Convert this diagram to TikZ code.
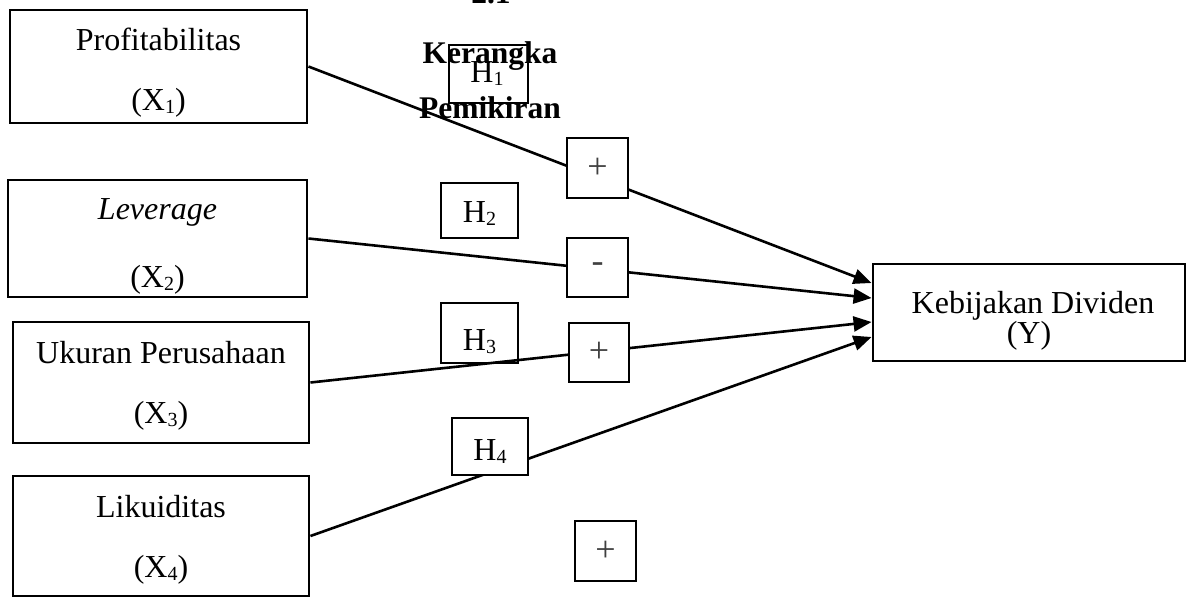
\documentclass[tikz,border=0pt]{standalone}
\usepackage{fontspec}
\setmainfont{Liberation Serif}
\usetikzlibrary{arrows.meta,calc}
\newcommand\lowidx[1]{\raisebox{-0.12em}{\fontsize{20}{20}\selectfont #1}}
\tikzset{
  box/.style={draw=black, line width=2.9pt, rectangle, inner sep=0pt},
  wbox/.style={box, fill=white},
  txt/.style={anchor=base, inner sep=0pt, font=\fontsize{32}{38}\selectfont},
  ttl/.style={anchor=base, inner sep=0pt, font=\fontsize{31.5}{38}\selectfont\bfseries},
  sgn/.style={inner sep=0pt, text=black!75, font=\fontsize{36}{38}\selectfont},
  conn/.style={line width=2.6pt, -{Triangle[length=18pt,width=15pt]}}
}
\begin{document}
\begin{tikzpicture}[x=1pt,y=-1pt]
\clip (0,0) rectangle (1187,597);
\fill[white] (0,0) rectangle (1187,597);

% title
\node[ttl] (t0) at (491,3) {2.1};
\node[ttl] (t1) at (490,63) {Kerangka};
\node[ttl] (t2) at (490,118) {Pemikiran};

% variable boxes
\node[wbox, minimum width=297pt, minimum height=113pt] (x1) at (158.5,66.5) {};
\node[wbox, minimum width=299pt, minimum height=117pt] (x2) at (157.5,238.5) {};
\node[wbox, minimum width=296pt, minimum height=121pt] (x3) at (161,382.5) {};
\node[wbox, minimum width=296pt, minimum height=120pt] (x4) at (161,536) {};
\node[wbox, minimum width=312pt, minimum height=97pt] (y) at (1029,312.5) {};

% connectors
\draw[conn] (x1.east) -- ($(y.west)+(0,-29.5)$);
\draw[conn] (x2.east) -- ($(y.west)+(0,-14.5)$);
\draw[conn] (x3.east) -- ($(y.west)+(0,9.5)$);
\draw[conn] (x4.east) -- ($(y.west)+(0,24.5)$);

% hypothesis boxes
\node[box, minimum width=79pt, minimum height=58pt] (h1) at (488.5,74) {};
\node[wbox, minimum width=77pt, minimum height=55pt] (h2) at (479.5,210.5) {};
\node[box, minimum width=77pt, minimum height=60pt] (h3) at (479.5,333) {};
\node[wbox, minimum width=76pt, minimum height=57pt] (h4) at (490,446.5) {};

% sign boxes
\node[wbox, minimum width=61pt, minimum height=60pt] (p1) at (597.5,168) {};
\node[wbox, minimum width=61pt, minimum height=59pt] (p2) at (597.5,267.5) {};
\node[wbox, minimum width=60pt, minimum height=59pt] (p3) at (599,352.5) {};
\node[wbox, minimum width=61pt, minimum height=60pt] (p4) at (605.5,551) {};
\node[sgn] (s1) at (p1) {+};
\node[sgn] (s2) at (p2) {-};
\node[sgn] (s3) at (p3) {+};
\node[sgn] (s4) at (p4) {+};

% texts
\node[txt] (a1) at (158.5,50) {Profitabilitas};
\node[txt] (b1) at (158.5,110) {(X\lowidx{1})};
\node[txt] (a2) at (157.5,219) {\itshape Leverage};
\node[txt] (b2) at (157.5,287) {(X\lowidx{2})};
\node[txt] (a3) at (161,363) {Ukuran Perusahaan};
\node[txt] (b3) at (161,423) {(X\lowidx{3})};
\node[txt] (a4) at (161,517) {Likuiditas};
\node[txt] (b4) at (161,577) {(X\lowidx{4})};
\node[txt] (ya) at (1033,313) {Kebijakan Dividen};
\node[txt] (yb) at (1029,343) {(Y)};

\node[txt] (ht1) at (487,82) {H\lowidx{1}};
\node[txt] (ht2) at (479.5,222) {H\lowidx{2}};
\node[txt] (ht3) at (479.5,350) {H\lowidx{3}};
\node[txt] (ht4) at (490,460) {H\lowidx{4}};
\end{tikzpicture}
\end{document}
